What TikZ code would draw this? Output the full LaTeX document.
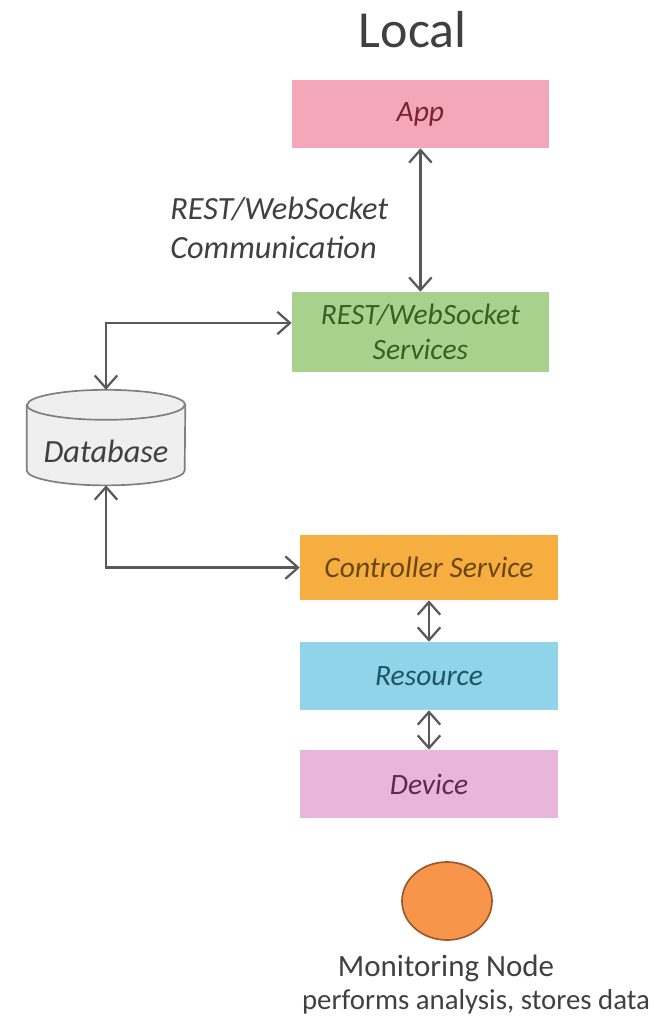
\documentclass[tikz,border=0pt]{standalone}
\usepackage{fontspec}
\setmainfont{Carlito}
\usetikzlibrary{arrows.meta,backgrounds,shapes.geometric}

\definecolor{linegray}{HTML}{595959}
\definecolor{txtgray}{HTML}{404040}
\definecolor{appfill}{HTML}{F4A7B9}
\definecolor{apptxt}{HTML}{7A2432}
\definecolor{restfill}{HTML}{A9D18E}
\definecolor{resttxt}{HTML}{3B5E22}
\definecolor{ctrlfill}{HTML}{F5AE3F}
\definecolor{ctrltxt}{HTML}{6B4510}
\definecolor{resfill}{HTML}{8FD4E8}
\definecolor{restxt}{HTML}{1F5566}
\definecolor{devfill}{HTML}{E8B6D9}
\definecolor{devtxt}{HTML}{5E2A55}
\definecolor{monfill}{HTML}{F7964A}
\definecolor{monline}{HTML}{9B5A2A}
\definecolor{dbfill}{HTML}{EFEFEF}
\definecolor{dbline}{HTML}{7F7F7F}

\begin{document}
\begin{tikzpicture}[
    box/.style = {rectangle, inner sep=0pt, minimum width=6.45cm, minimum height=1.7cm,
                  align=center, font=\fontsize{21}{25}\selectfont\itshape},
    link/.style = {draw=linegray, line width=1.6pt,
                   {Straight Barb[length=9pt,width=16pt]}-{Straight Barb[length=9pt,width=16pt]}},
    dbbox/.style = {rectangle, inner sep=0pt, minimum width=3.95cm, minimum height=2.375cm},
    plain/.style = {text=txtgray, inner sep=0pt}]
    \useasboundingbox (0,0) rectangle (16.325,-25.65);
    \node[plain, font=\fontsize{37}{44}\selectfont] (title) at (10.32,-0.75) {Local};
    \node[box, fill=appfill, text=apptxt, minimum width=6.425cm] (app) at (10.51,-2.85) {App};
    \node[box, fill=restfill, text=resttxt, minimum width=6.425cm, minimum height=2cm] (rest) at (10.51,-8.3) {REST/WebSocket\\Services};
    \node[plain, align=left, anchor=west, font=\fontsize{23}{28}\selectfont\itshape] (comm) at (4.25,-5.7) {REST/WebSocket\\Communication};
    \node[dbbox, label={[yshift=-0.35cm, text=txtgray, font=\fontsize{23}{27}\selectfont\itshape]center:Database}] (db) at (2.65,-10.94) {};
    \node[box, fill=ctrlfill, text=ctrltxt, minimum height=1.625cm] (ctrl) at (10.725,-14.19) {Controller Service};
    \node[box, fill=resfill, text=restxt] (res) at (10.725,-16.9) {Resource};
    \node[box, fill=devfill, text=devtxt] (dev) at (10.725,-19.6) {Device};
    \node[ellipse, draw=monline, line width=1.2pt, fill=monfill, minimum width=2.25cm, minimum height=1.95cm] (mon) at (11.175,-22.525) {};
    \node[plain, font=\fontsize{22}{26}\selectfont] (monname) at (11.15,-24.2) {Monitoring Node};
    \node[plain, font=\fontsize{20.5}{24}\selectfont] (mondesc) at (11.9,-25.05) {performs analysis, stores data};
    % database drawn behind its label
    \begin{scope}[on background layer]
        \filldraw[draw=dbline, fill=dbfill, line width=1.2pt]
            ([yshift=-0.375cm]db.north west) -- ([yshift=0.375cm]db.south west)
            arc[start angle=180, end angle=360, x radius=1.975cm, y radius=0.375cm]
            -- ([yshift=-0.375cm]db.north east)
            arc[start angle=0, end angle=180, x radius=1.975cm, y radius=0.375cm] -- cycle;
        \draw[draw=dbline, line width=1.2pt] ([yshift=-0.375cm]db.north west)
            arc[start angle=180, end angle=360, x radius=1.975cm, y radius=0.375cm];
    \end{scope}
    \draw[link] (app) -- (rest);
    \draw[link] (db.north) |- ([yshift=0.225cm]rest.west);
    \draw[link] (db.south) |- (ctrl.west);
    \draw[link] (ctrl) -- (res);
    \draw[link] (res) -- (dev);
\end{tikzpicture}
\end{document}
